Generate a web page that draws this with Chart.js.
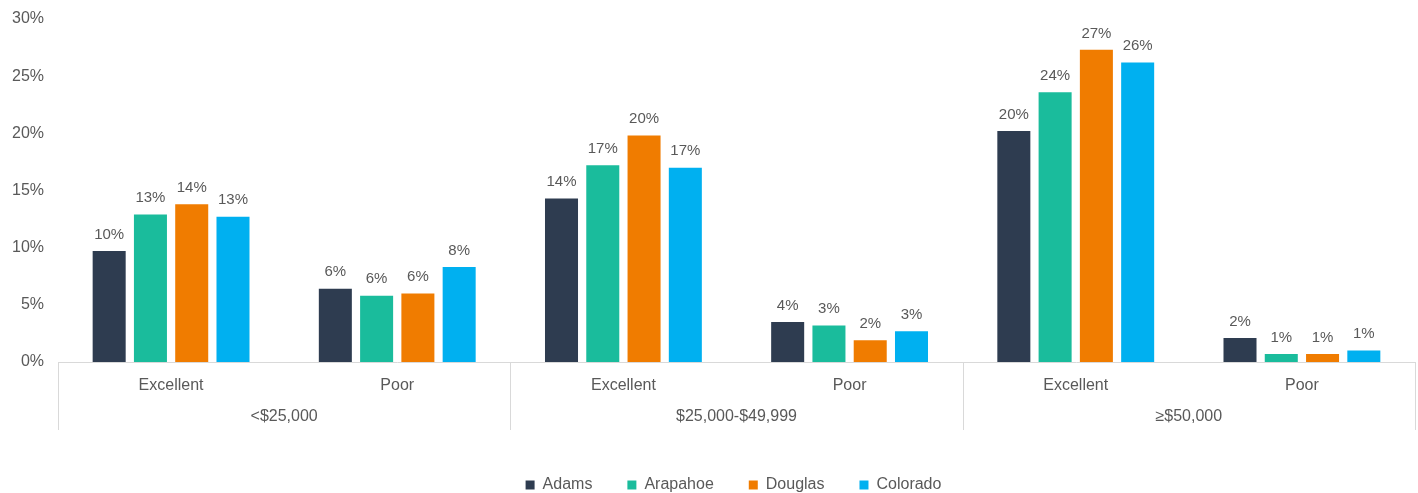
<!DOCTYPE html>
<html>
<head>
    <title>Excellent / Poor by income</title>
    <script src="https://cdn.jsdelivr.net/npm/chart.js"></script>
    <style>
        html, body { margin: 0; padding: 0; background: #fff; }
        #wrap { width: 1418px; height: 493px; }
    </style>
</head>
<body>
    <div id="wrap">
        <canvas id="ratingChart"></canvas>
    </div>

    <script>
        // chart values (percent)
        const incomeGroups = ["<$25,000", "$25,000-$49,999", "\u2265$50,000"];
        const ratings = ["Excellent", "Poor"];
        const countyNames = ["Adams", "Arapahoe", "Douglas", "Colorado"];
        const adams = [9.7, 6.4, 14.3, 3.5, 20.2, 2.1];
        const arapahoe = [12.9, 5.8, 17.2, 3.2, 23.6, 0.7];
        const douglas = [13.8, 6.0, 19.8, 1.9, 27.3, 0.7];
        const colorado = [12.7, 8.3, 17.0, 2.7, 26.2, 1.0];
        const yTicks = [0, 5, 10, 15, 20, 25, 30];

        const colors = ["#2e3c50", "#1abc9c", "#f07c00", "#00b0f0"];
        const textColor = "#595959";
        const lineColor = "#d9d9d9";
        const fontFamily = "'Liberation Sans', Arial, sans-serif";

        // one label per bar group: Excellent, Poor, Excellent, ...
        const labels = [];
        incomeGroups.forEach(() => ratings.forEach(r => labels.push(r)));

        const seriesValues = [adams, arapahoe, douglas, colorado];
        const datasets = countyNames.map((name, i) => ({
            label: name,
            data: seriesValues[i],
            backgroundColor: colors[i],
            borderWidth: 0,
            categoryPercentage: 0.73,
            barPercentage: 0.8
        }));

        // numbers above the bars
        const valueLabels = {
            id: "valueLabels",
            afterDatasetsDraw(chart) {
                const ctx = chart.ctx;
                ctx.save();
                ctx.font = "15px " + fontFamily;
                ctx.fillStyle = textColor;
                ctx.textAlign = "center";
                ctx.textBaseline = "bottom";
                chart.data.datasets.forEach((ds, i) => {
                    const meta = chart.getDatasetMeta(i);
                    meta.data.forEach((bar, j) => {
                        ctx.fillText(Math.round(ds.data[j]) + "%", bar.x, bar.y - 9);
                    });
                });
                ctx.restore();
            }
        };

        // second level of the x axis: income groups and the separators
        const groupAxis = {
            id: "groupAxis",
            afterLayout(chart) {
                // legend sits a little right of centre in the original
                chart.legend.left += 26;
                chart.legend.right += 26;
            },
            afterDraw(chart) {
                const ctx = chart.ctx;
                const x = chart.scales.x;
                const per = ratings.length;
                const top = x.top;
                const bottom = x.top + 68;
                ctx.save();
                ctx.strokeStyle = lineColor;
                ctx.lineWidth = 1;
                const edges = [x.left];
                for (let g = 1; g < incomeGroups.length; g++) {
                    edges.push((x.getPixelForValue(g * per - 1) + x.getPixelForValue(g * per)) / 2);
                }
                edges.push(x.right);
                edges.forEach(px => {
                    const p = Math.round(px) + 0.5;
                    ctx.beginPath();
                    ctx.moveTo(p, top);
                    ctx.lineTo(p, bottom);
                    ctx.stroke();
                });
                ctx.font = "16px " + fontFamily;
                ctx.fillStyle = textColor;
                ctx.textAlign = "center";
                ctx.textBaseline = "middle";
                incomeGroups.forEach((name, g) => {
                    const cx = (x.getPixelForValue(g * per) + x.getPixelForValue(g * per + per - 1)) / 2;
                    ctx.fillText(name, cx, top + 55);
                });
                ctx.restore();
            }
        };

        const ctx = document.getElementById("ratingChart").getContext("2d");
        new Chart(ctx, {
            type: "bar",
            data: { labels: labels, datasets: datasets },
            plugins: [valueLabels, groupAxis],
            options: {
                responsive: true,
                maintainAspectRatio: false,
                animation: false,
                layout: { padding: { top: 19, right: 3, bottom: 0, left: 0 } },
                plugins: {
                    tooltip: { enabled: false },
                    legend: {
                        position: "bottom",
                        maxHeight: 51,
                        labels: {
                            boxWidth: 9,
                            boxHeight: 9,
                            padding: 35,
                            color: textColor,
                            font: { family: fontFamily, size: 16 }
                        }
                    }
                },
                scales: {
                    x: {
                        grid: { display: true, drawOnChartArea: false, drawTicks: false },
                        border: { display: true, color: lineColor, width: 1 },
                        ticks: {
                            color: textColor,
                            padding: 14,
                            font: { family: fontFamily, size: 16 }
                        },
                        afterFit(scale) { scale.height = 80; }
                    },
                    y: {
                        min: 0,
                        max: 30,
                        grid: { display: false, drawTicks: false },
                        border: { display: false },
                        afterBuildTicks(scale) {
                            scale.ticks = yTicks.map(v => ({ value: v }));
                        },
                        ticks: {
                            color: textColor,
                            padding: 14,
                            font: { family: fontFamily, size: 16 },
                            callback: v => v + "%"
                        },
                        afterFit(scale) {
                            scale.width = 58;
                            scale.paddingTop = 0;
                            scale.paddingBottom = 0;
                        }
                    }
                }
            }
        });
    </script>
</body>
</html>
